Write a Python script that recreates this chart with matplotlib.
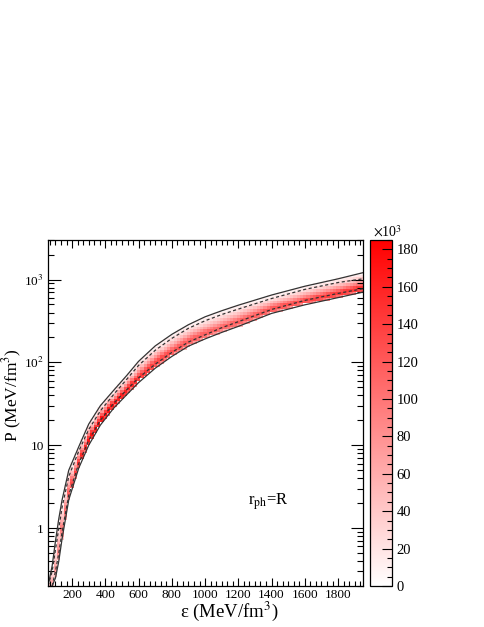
import numpy as np
import matplotlib
matplotlib.use("Agg")
import matplotlib.pyplot as plt
from matplotlib.colors import LinearSegmentedColormap
from matplotlib.ticker import FixedLocator, MultipleLocator, LogLocator, FuncFormatter, NullFormatter

plt.rcParams['font.family'] = ['Liberation Serif', 'DejaVu Serif']
plt.rcParams['mathtext.fontset'] = 'stix'

# band edges (energy density and pressure, both MeV/fm^3)
eps_nodes = [55, 80, 100, 120, 140, 180, 240, 300, 370, 450, 530, 600, 700, 800,
             900, 1000, 1100, 1200, 1400, 1600, 1800, 1950]
p_upper = [0.2, 0.35, 0.7, 1.3, 2.2, 5.0, 9.6, 18, 30, 46, 70, 103, 158, 218,
           285, 355, 420, 490, 650, 830, 1020, 1210]
p_upper_dash = [0.2, 0.3, 0.55, 1.0, 1.8, 4.2, 8.5, 15.5, 26, 41, 63, 92, 140, 195,
                258, 318, 378, 440, 590, 760, 920, 1020]
p_lower_dash = [0.2, 0.2, 0.3, 0.5, 0.9, 2.5, 6.0, 11.5, 20, 32, 47, 65, 95, 132,
                176, 215, 262, 310, 435, 560, 680, 775]
p_lower = [0.2, 0.2, 0.25, 0.4, 0.75, 2.2, 5.3, 10, 17.5, 28, 41, 57, 85, 118,
           157, 192, 230, 272, 390, 495, 605, 705]

# peak counts along the band and the shape across it (0 = lower edge, 1 = upper edge)
peak_eps = [55, 150, 250, 350, 450, 550, 700, 900, 1100, 1300, 1500, 1700, 1950]
peak_counts = [50e3, 100e3, 160e3, 182e3, 178e3, 160e3, 140e3, 120e3, 115e3, 120e3, 130e3, 140e3, 150e3]
t_nodes = [0.0, 0.1, 0.2, 0.3, 0.4, 0.5, 0.6, 0.7, 0.8, 0.9, 1.0]
t_shape = [0.45, 0.85, 1.0, 0.95, 0.75, 0.55, 0.4, 0.27, 0.17, 0.1, 0.05]

label_text = r"r$_{\rm ph}$=R"

fig = plt.figure(figsize=(4.85, 6.27), dpi=100)
ax = fig.add_axes([48 / 485, 1 - 586 / 627, 315 / 485, 346 / 627])
cax = fig.add_axes([370 / 485, 1 - 586 / 627, 22 / 485, 346 / 627])

# build histogram cells
x_edges = np.arange(50, 1971, 20.0)
y_edges = np.logspace(np.log10(0.2), np.log10(3000), 121)
xc = 0.5 * (x_edges[1:] + x_edges[:-1])
yc = np.sqrt(y_edges[1:] * y_edges[:-1])
lo = 10 ** np.interp(xc, eps_nodes, np.log10(p_lower))
hi = 10 ** np.interp(xc, eps_nodes, np.log10(p_upper))
pk = np.interp(xc, peak_eps, peak_counts)
X, Y = np.meshgrid(xc, yc)
LO = np.broadcast_to(lo, X.shape)
HI = np.broadcast_to(hi, X.shape)
t = (np.log10(Y) - np.log10(LO)) / np.maximum(np.log10(HI) - np.log10(LO), 1e-6)
Z = np.where((t >= 0) & (t <= 1), np.broadcast_to(pk, X.shape) * np.interp(t, t_nodes, t_shape), 0.0)
Z = np.ma.masked_less_equal(Z, 0)

cmap = LinearSegmentedColormap.from_list("wr", ["#ffffff", "#ff0000"])
mesh = ax.pcolormesh(x_edges, y_edges, Z, cmap=cmap, vmin=0, vmax=185e3, shading="flat")

ax.plot(eps_nodes, p_upper, color="#333333", lw=0.9)
ax.plot(eps_nodes[1:], p_lower[1:], color="#333333", lw=0.9)
ax.plot(eps_nodes, p_upper_dash, color="#333333", lw=0.9, ls=(0, (2.5, 2)))
ax.plot(eps_nodes[1:], p_lower_dash[1:], color="#333333", lw=0.9, ls=(0, (2.5, 2)))

ax.set_yscale("log")
ax.set_xlim(55, 1950)
ax.set_ylim(0.2, 3000)

ax.xaxis.set_major_locator(MultipleLocator(200))
ax.xaxis.set_minor_locator(MultipleLocator(200 / 6))
ax.yaxis.set_major_locator(FixedLocator([1, 10, 100, 1000]))
ax.yaxis.set_minor_locator(LogLocator(base=10, subs=np.arange(2, 10)))
ax.yaxis.set_minor_formatter(NullFormatter())
ylab = {1: "1", 10: "10", 100: r"10$^{2}$", 1000: r"10$^{3}$"}
ax.yaxis.set_major_formatter(FuncFormatter(lambda v, p: ylab.get(int(round(v)), "")))
ax.tick_params(which="both", direction="in", top=True, right=True, labelsize=9.5, width=0.8)
ax.tick_params(axis="x", which="major", length=6)
ax.tick_params(axis="x", which="minor", length=3.5)
ax.tick_params(axis="y", which="major", length=9)
ax.tick_params(axis="y", which="minor", length=4.5)
ax.tick_params(axis="x", pad=2)
ax.tick_params(axis="y", pad=3)
for s in ax.spines.values():
    s.set_linewidth(0.9)

ax.text(0.635, 0.245, label_text, transform=ax.transAxes, fontsize=12, ha="left", va="center")

fig.text(229 / 485, 1 - 611 / 627, "ε (MeV/fm$^{3}$)", fontsize=13.5, ha="center", va="center")
fig.text(12 / 485, 1 - 395 / 627, "P (MeV/fm$^{3}$)", fontsize=12.5, ha="center", va="center", rotation=90)

cb = fig.colorbar(mesh, cax=cax)
cb.set_ticks(np.arange(0, 181e3, 20e3))
cb.set_ticklabels([str(int(v)) for v in np.arange(0, 181, 20)])
cb.ax.yaxis.set_minor_locator(MultipleLocator(5e3))
cb.ax.tick_params(which="both", direction="in", labelsize=10.5, width=0.8)
cb.ax.tick_params(which="major", length=7)
cb.ax.tick_params(which="minor", length=3.5)
cb.outline.set_linewidth(0.9)
cax.text(0.15, 1.0, r"$\times$10$^{3}$", transform=cax.transAxes, fontsize=10, ha="left", va="bottom")

fig.savefig("out.png", dpi=100)
